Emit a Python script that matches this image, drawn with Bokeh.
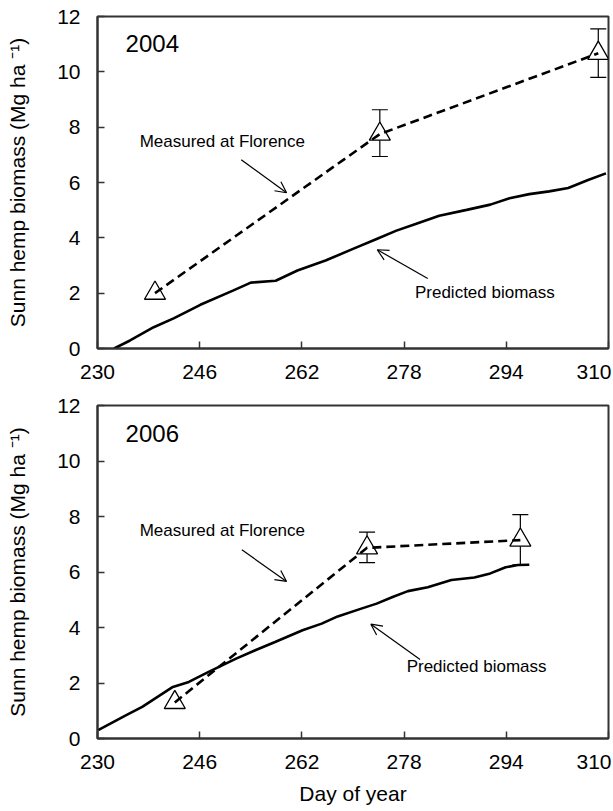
from bokeh.plotting import figure
from bokeh.layouts import column
from bokeh.models import (Range1d, FixedTicker, Whisker, TeeHead, Arrow, OpenHead,
                          Label, ColumnDataSource)
from bokeh.embed import file_html
from bokeh.resources import INLINE

# ---------------- data ----------------
x_ticks = [230, 246, 262, 278, 294, 310]
y_ticks = [0, 2, 4, 6, 8, 10, 12]

pred_day_2004 = [232.6, 235.1, 238.8, 242.0, 246.1, 251.2, 254.0, 257.9, 261.3, 265.7,
                 270.0, 273.7, 276.8, 279.8, 283.5, 287.8, 291.5, 294.5, 297.6, 300.7,
                 303.7, 306.8, 309.6]
pred_2004 = [0.0, 0.29, 0.77, 1.10, 1.58, 2.09, 2.38, 2.45, 2.82, 3.18,
             3.60, 3.96, 4.26, 4.50, 4.80, 5.01, 5.20, 5.43, 5.58, 5.68,
             5.80, 6.09, 6.33]
meas_day_2004 = [239.0, 274.2, 308.4]
meas_2004 = [2.0, 7.75, 10.67]
err_day_2004 = [274.2, 308.4]
err_hi_2004 = [8.63, 11.55]
err_lo_2004 = [6.94, 9.80]

pred_day_2006 = [230.1, 234.5, 237.0, 239.4, 241.8, 244.3, 247.4, 251.7, 254.7, 257.8,
                 262.1, 265.1, 267.6, 271.3, 273.7, 276.2, 278.6, 281.7, 285.4, 289.0,
                 291.5, 293.9, 295.8, 297.6]
pred_2006 = [0.30, 0.84, 1.14, 1.50, 1.86, 2.04, 2.40, 2.88, 3.18, 3.48,
             3.90, 4.14, 4.40, 4.68, 4.86, 5.10, 5.31, 5.45, 5.71, 5.80,
             5.95, 6.17, 6.25, 6.26]
meas_day_2006 = [242.1, 272.2, 296.2]
meas_2006 = [1.30, 6.87, 7.15]
err_day_2006 = [272.2, 296.2]
err_hi_2006 = [7.44, 8.07]
err_lo_2006 = [6.34, 6.26]

FONT = "Liberation Sans"
AXIS_COL = "#333333"


def make_panel(year, pdays, pvals, mdays, mvals, edays, ehi, elo,
               height, border_top, border_bottom, show_xlabel, annot):
    p = figure(width=611, height=height, output_backend="svg", toolbar_location=None,
               x_range=Range1d(230, 310), y_range=Range1d(0, 12),
               min_border_left=97, min_border_right=3, min_border_top=border_top,
               min_border_bottom=border_bottom)
    p.background_fill_color = "white"
    p.border_fill_color = "white"
    p.outline_line_color = AXIS_COL
    p.outline_line_width = 2
    p.xgrid.visible = False
    p.ygrid.visible = False

    for ax in (p.xaxis[0], p.yaxis[0]):
        ax.axis_line_color = AXIS_COL
        ax.axis_line_width = 2
        ax.major_tick_line_color = AXIS_COL
        ax.major_tick_line_width = 1.5
        ax.major_tick_in = 7
        ax.major_tick_out = 0
        ax.minor_tick_line_color = None
        ax.major_label_text_font = FONT
        ax.major_label_text_font_size = "21px"
        ax.major_label_text_color = "black"
        ax.axis_label_text_font = FONT
        ax.axis_label_text_font_size = "21px"
        ax.axis_label_text_font_style = "normal"
        ax.axis_label_text_color = "black"

    p.xaxis.ticker = FixedTicker(ticks=x_ticks)
    p.yaxis.ticker = FixedTicker(ticks=y_ticks)
    p.xaxis.major_label_standoff = 16
    p.yaxis.major_label_standoff = 17
    p.yaxis.axis_label = "Sunn hemp biomass (Mg ha \u207b\u00b9)"
    p.yaxis.axis_label_standoff = 25
    if show_xlabel:
        p.xaxis.axis_label = "Day of year"
        p.xaxis.axis_label_standoff = 10

    # predicted line
    p.line(pdays, pvals, line_color="black", line_width=2.6)

    # error bars (drawn beneath the triangles)
    src = ColumnDataSource(dict(base=edays, upper=ehi, lower=elo))
    p.add_layout(Whisker(source=src, base="base", upper="upper", lower="lower",
                         level="underlay",
                         line_color="black", line_width=1.2,
                         upper_head=TeeHead(size=16, line_color="black", line_width=1.2),
                         lower_head=TeeHead(size=16, line_color="black", line_width=1.2)))

    # measured triangles
    p.scatter(mdays, mvals, marker="triangle", size=21, fill_color="white",
              line_color="black", line_width=1.3)
    # measured dashed line
    p.line(mdays, mvals, line_color="black", line_width=2.6, line_dash="9 5")

    # year label
    p.add_layout(Label(x=234.4, y=10.7, text=year, text_font=FONT,
                       text_font_size="24px", text_color="black",
                       text_baseline="bottom"))

    (mx, my, ma, pxl, pyl, pa) = annot
    p.add_layout(Label(x=mx, y=my, text="Measured at Florence", text_font=FONT,
                       text_font_size="17px", text_color="black",
                       text_baseline="middle"))
    p.add_layout(Label(x=pxl, y=pyl, text="Predicted biomass", text_font=FONT,
                       text_font_size="17px", text_color="black",
                       text_baseline="middle"))
    for (x0, y0, x1, y1) in (ma, pa):
        p.add_layout(Arrow(x_start=x0, y_start=y0, x_end=x1, y_end=y1,
                           line_color="black", line_width=1.2,
                           end=OpenHead(size=11, line_color="black", line_width=1.2)))
    return p


p1 = make_panel("2004", pred_day_2004, pred_2004, meas_day_2004, meas_2004,
                err_day_2004, err_hi_2004, err_lo_2004, 390, 16, 42, False,
                (236.6, 7.5, (252.5, 6.82, 259.6, 5.63),
                 279.7, 2.03, (281.7, 2.53, 273.8, 3.57)))
p2 = make_panel("2006", pred_day_2006, pred_2006, meas_day_2006, meas_2006,
                err_day_2006, err_hi_2006, err_lo_2006, 417, 15, 69, True,
                (236.6, 7.5, (252.6, 6.8, 259.6, 5.66),
                 278.4, 2.61, (280.5, 2.85, 272.8, 4.12)))

layout = column(p1, p2)
open("out.html", "w").write(file_html(layout, INLINE))
